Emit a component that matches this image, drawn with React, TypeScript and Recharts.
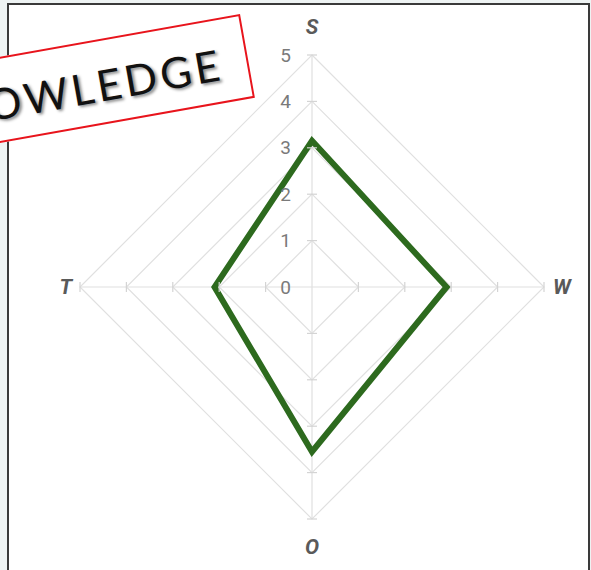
import React from "react";
import { RadarChart, Radar, PolarGrid, PolarAngleAxis, PolarRadiusAxis } from "recharts";

const axes = ["S", "W", "O", "T"];
const scores = [3.15, 2.9, 3.55, 2.1];
const radiusTicks = [0, 1, 2, 3, 4, 5];

const CX = 312;
const CY = 287;

const data = axes.map((axis, i) => ({ axis, score: scores[i] }));

// tick labels on the vertical axis, plus the small cross ticks on all four spokes
const RadiusTick = (props: any) => {
  const { x, y, payload } = props;
  const r = CY - y;
  const t = 5;
  return (
    <g>
      {r > 1 && (
        <g stroke="#d4d4d4" strokeWidth={1.2}>
          <line x1={CX - t} y1={CY - r} x2={CX + t} y2={CY - r} />
          <line x1={CX - t} y1={CY + r} x2={CX + t} y2={CY + r} />
          <line x1={CX - r} y1={CY - t} x2={CX - r} y2={CY + t} />
          <line x1={CX + r} y1={CY - t} x2={CX + r} y2={CY + t} />
        </g>
      )}
      <text
        x={x - 21}
        y={y}
        textAnchor="end"
        dominantBaseline="central"
        fill="#7a7a7a"
        fontSize={19}
        fontFamily="Roboto, sans-serif"
      >
        {payload.value}
      </text>
    </g>
  );
};

const AngleTick = (props: any) => {
  const { x, y, payload } = props;
  const dx = x - CX;
  const dy = y - CY;
  let tx = x;
  let ty = y;
  let anchor: "start" | "middle" | "end" = "middle";
  if (Math.abs(dx) > Math.abs(dy)) {
    anchor = dx > 0 ? "start" : "end";
    tx = dx > 0 ? x + 1 : x;
  } else {
    ty = dy < 0 ? y - 20 : y + 20;
  }
  return (
    <text
      x={tx}
      y={ty}
      textAnchor={anchor}
      dominantBaseline="central"
      fill="#5a5a5a"
      fontSize={21}
      fontWeight="bold"
      fontStyle="italic"
      fontFamily="Roboto, sans-serif"
    >
      {payload.value}
    </text>
  );
};

export default function App() {
  return (
    <div
      style={{
        position: "absolute",
        left: 0,
        top: 0,
        width: 591,
        height: 570,
        overflow: "hidden",
        background: "#eef3f3",
      }}
    >
      <div
        style={{
          position: "absolute",
          left: 7,
          top: 3,
          width: 579,
          height: 600,
          border: "2px solid #3a3a3a",
          background: "#ffffff",
        }}
      />
      <div style={{ position: "absolute", left: 0, top: 0 }}>
        <RadarChart width={591} height={570} data={data} cx={CX} cy={CY} outerRadius={232}>
          <PolarGrid gridType="polygon" stroke="#e0e0e0" strokeWidth={1.2} />
          <PolarAngleAxis dataKey="axis" tick={AngleTick} tickLine={false} axisLine={false} />
          <PolarRadiusAxis
            angle={90}
            domain={[0, 5]}
            ticks={radiusTicks}
            tickCount={6}
            axisLine={false}
            tick={RadiusTick}
          />
          <Radar
            dataKey="score"
            stroke="#2d6a1e"
            strokeWidth={6}
            fill="none"
            fillOpacity={0}
            dot={false}
            isAnimationActive={false}
          />
        </RadarChart>
      </div>
      <div
        style={{
          position: "absolute",
          left: -140,
          top: 14,
          width: 380,
          height: 85,
          boxSizing: "border-box",
          border: "2px solid #e8141c",
          background: "#ffffff",
          transform: "rotate(-10.1deg)",
          transformOrigin: "top right",
          display: "flex",
          alignItems: "center",
          justifyContent: "flex-end",
          paddingRight: 24,
          paddingTop: 6,
        }}
      >
        <span
          style={{
            fontFamily: "Lato, sans-serif",
            fontSize: 43,
            color: "#111",
            letterSpacing: 3.5,
            textShadow: "2px 2px 3px rgba(0,0,0,0.45)",
          }}
        >
          KNOWLEDGE
        </span>
      </div>
    </div>
  );
}
